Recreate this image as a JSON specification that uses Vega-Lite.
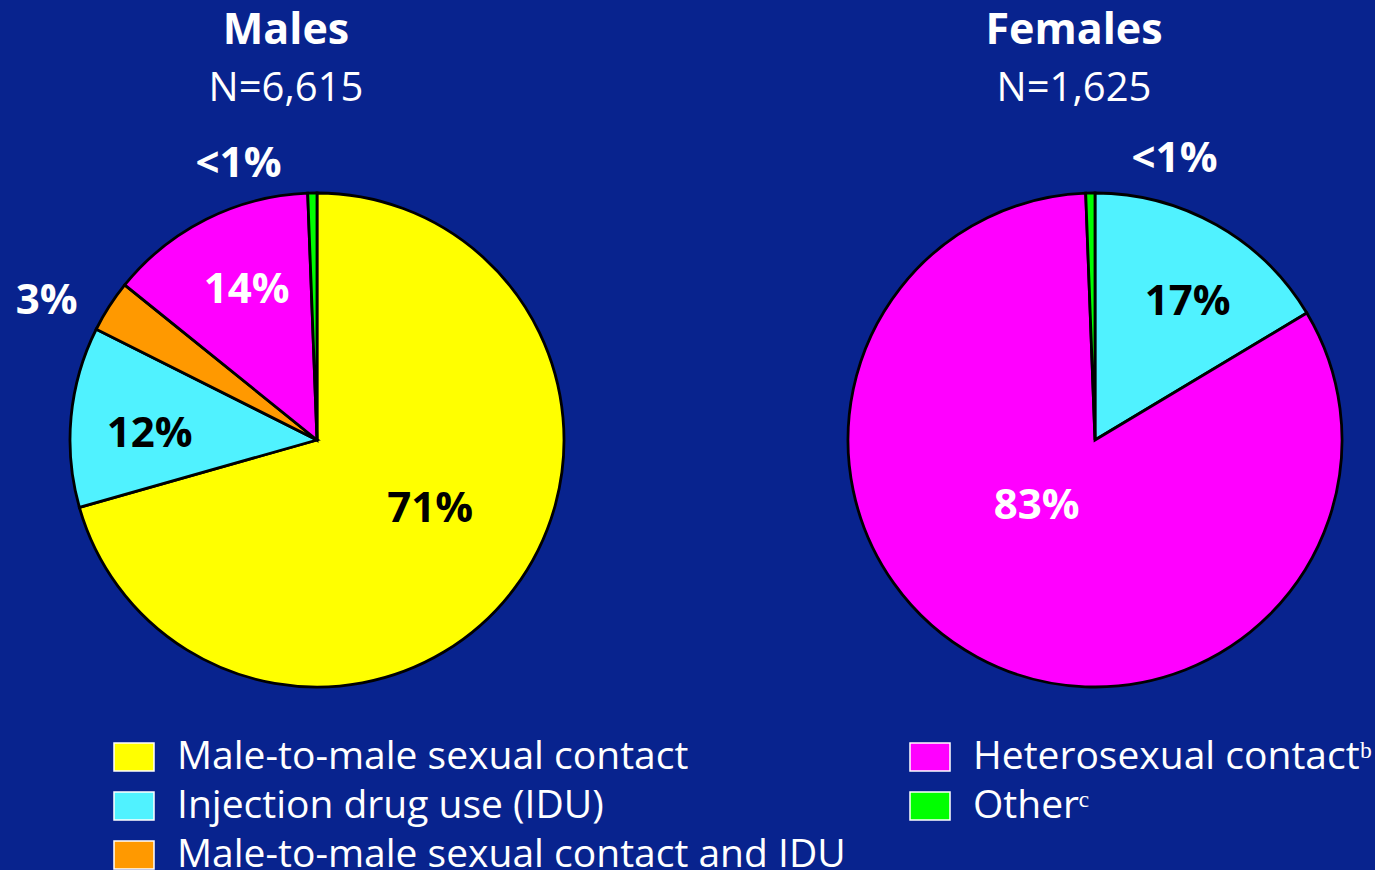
{
  "$schema": "https://vega.github.io/schema/vega-lite/v6.json",
  "background": "#08238e",
  "padding": {"left": 15, "top": 10, "right": 0, "bottom": 0},
  "bounds": "flush",
  "config": {
    "view": {"stroke": null},
    "font": "Open Sans",
    "title": {"fontSize": 43, "fontWeight": "bold", "color": "white", "font": "Open Sans", "subtitleFont": "Open Sans", "subtitleFontSize": 40, "subtitleFontWeight": "normal", "subtitleColor": "white", "subtitlePadding": 16, "anchor": "middle", "offset": -19},
    "legend": {"title": null, "orient": "none", "direction": "vertical", "symbolType": "M-1,-0.7H1V0.7H-1Z", "symbolSize": 1600, "symbolStrokeColor": "white", "symbolStrokeWidth": 1.5, "symbolOpacity": 1, "labelFont": "Open Sans", "labelFontSize": 39, "labelColor": "white", "labelLimit": 900, "rowPadding": 8, "labelOffset": 22}
  },
  "data": {"values": [
    {"sex": "Males", "cat": "Male-to-male sexual contact", "value": 70.6, "label": "71%", "ord": 1},
    {"sex": "Males", "cat": "Injection drug use (IDU)", "value": 11.8, "label": "12%", "ord": 2},
    {"sex": "Males", "cat": "Male-to-male sexual contact and IDU", "value": 3.4, "label": "3%", "ord": 3},
    {"sex": "Males", "cat": "Heterosexual contactᵇ", "value": 13.6, "label": "14%", "ord": 4},
    {"sex": "Males", "cat": "Otherᶜ", "value": 0.6, "label": "<1%", "ord": 5},
    {"sex": "Females", "cat": "Injection drug use (IDU)", "value": 16.4, "label": "17%", "ord": 2},
    {"sex": "Females", "cat": "Heterosexual contactᵇ", "value": 83.0, "label": "83%", "ord": 4},
    {"sex": "Females", "cat": "Otherᶜ", "value": 0.6, "label": "<1%", "ord": 5}
  ]},
  "spacing": 198,
  "resolve": {"scale": {"color": "independent", "theta": "independent"}, "legend": {"color": "independent"}},
  "hconcat": [
    {
      "width": 600, "height": 700,
      "title": {"text": "Males", "subtitle": "N=6,615", "dx": -31},
      "transform": [
        {"filter": "datum.sex == 'Males'"},
        {"stack": "value", "groupby": [], "sort": [{"field": "ord"}], "as": ["v0", "v1"]},
        {"calculate": "(datum.v0 + datum.v1) / 2", "as": "mid"}
      ],
      "layer": [
        {
          "mark": {"type": "arc", "outerRadius": 247, "stroke": "black", "strokeWidth": 2.8},
          "encoding": {
            "theta": {"field": "v0", "type": "quantitative", "scale": {"domain": [0, 100]}},
            "theta2": {"field": "v1"},
            "color": {"field": "cat", "type": "nominal",
              "scale": {"domain": ["Male-to-male sexual contact", "Injection drug use (IDU)", "Male-to-male sexual contact and IDU", "Heterosexual contactᵇ", "Otherᶜ"], "range": ["#FFFF00", "#50F2FF", "#FF9900", "#FF00FF", "#00FF00"]},
              "legend": {"values": ["Male-to-male sexual contact", "Injection drug use (IDU)", "Male-to-male sexual contact and IDU"], "legendX": 96, "legendY": 646}}
          }
        },
        {
          "transform": [{"filter": "datum.cat == 'Male-to-male sexual contact'"}],
          "mark": {"type": "text", "radius": 133, "dx": 7, "dy": -11, "font": "Open Sans", "fontWeight": "bold", "fontSize": 42, "color": "black"},
          "encoding": {"theta": {"field": "mid", "type": "quantitative", "scale": {"domain": [0, 100]}}, "text": {"field": "label"}}
        },
        {
          "transform": [{"filter": "datum.cat == 'Injection drug use (IDU)'"}],
          "mark": {"type": "text", "radius": 168, "dy": 10, "font": "Open Sans", "fontWeight": "bold", "fontSize": 42, "color": "black"},
          "encoding": {"theta": {"field": "mid", "type": "quantitative", "scale": {"domain": [0, 100]}}, "text": {"field": "label"}}
        },
        {
          "transform": [{"filter": "datum.cat == 'Heterosexual contactᵇ'"}],
          "mark": {"type": "text", "radius": 168, "dx": 5, "font": "Open Sans", "fontWeight": "bold", "fontSize": 42, "color": "white"},
          "encoding": {"theta": {"field": "mid", "type": "quantitative", "scale": {"domain": [0, 100]}}, "text": {"field": "label"}}
        },
        {
          "transform": [{"filter": "datum.cat == 'Male-to-male sexual contact and IDU'"}],
          "mark": {"type": "text", "radius": 300, "dx": -18, "dy": 23, "font": "Open Sans", "fontWeight": "bold", "fontSize": 42, "color": "white"},
          "encoding": {"theta": {"field": "mid", "type": "quantitative", "scale": {"domain": [0, 100]}}, "text": {"field": "label"}}
        },
        {
          "transform": [{"filter": "datum.cat == 'Otherᶜ'"}],
          "mark": {"type": "text", "radius": 290, "dx": -73, "dy": 14, "font": "Open Sans", "fontWeight": "bold", "fontSize": 42, "color": "white"},
          "encoding": {"theta": {"field": "mid", "type": "quantitative", "scale": {"domain": [0, 100]}}, "text": {"field": "label"}}
        }
      ]
    },
    {
      "width": 560, "height": 700,
      "title": {"text": "Females", "subtitle": "N=1,625", "dx": -21},
      "transform": [
        {"filter": "datum.sex == 'Females'"},
        {"stack": "value", "groupby": [], "sort": [{"field": "ord"}], "as": ["v0", "v1"]},
        {"calculate": "(datum.v0 + datum.v1) / 2", "as": "mid"}
      ],
      "layer": [
        {
          "mark": {"type": "arc", "outerRadius": 247, "stroke": "black", "strokeWidth": 2.8},
          "encoding": {
            "theta": {"field": "v0", "type": "quantitative", "scale": {"domain": [0, 100]}},
            "theta2": {"field": "v1"},
            "color": {"field": "cat", "type": "nominal",
              "scale": {"domain": ["Male-to-male sexual contact", "Injection drug use (IDU)", "Male-to-male sexual contact and IDU", "Heterosexual contactᵇ", "Otherᶜ"], "range": ["#FFFF00", "#50F2FF", "#FF9900", "#FF00FF", "#00FF00"]},
              "legend": {"values": ["Heterosexual contactᵇ", "Otherᶜ"], "legendX": 94, "legendY": 646}}
          }
        },
        {
          "transform": [{"filter": "datum.cat == 'Injection drug use (IDU)'"}],
          "mark": {"type": "text", "radius": 168, "dx": 10, "dy": 8, "font": "Open Sans", "fontWeight": "bold", "fontSize": 42, "color": "black"},
          "encoding": {"theta": {"field": "mid", "type": "quantitative", "scale": {"domain": [0, 100]}}, "text": {"field": "label"}}
        },
        {
          "transform": [{"filter": "datum.cat == 'Heterosexual contactᵇ'"}],
          "mark": {"type": "text", "radius": 87, "dx": -17, "dy": -11, "font": "Open Sans", "fontWeight": "bold", "fontSize": 42, "color": "white"},
          "encoding": {"theta": {"field": "mid", "type": "quantitative", "scale": {"domain": [0, 100]}}, "text": {"field": "label"}}
        },
        {
          "transform": [{"filter": "datum.cat == 'Otherᶜ'"}],
          "mark": {"type": "text", "radius": 290, "dx": 85, "dy": 9, "font": "Open Sans", "fontWeight": "bold", "fontSize": 42, "color": "white"},
          "encoding": {"theta": {"field": "mid", "type": "quantitative", "scale": {"domain": [0, 100]}}, "text": {"field": "label"}}
        }
      ]
    }
  ]
}
